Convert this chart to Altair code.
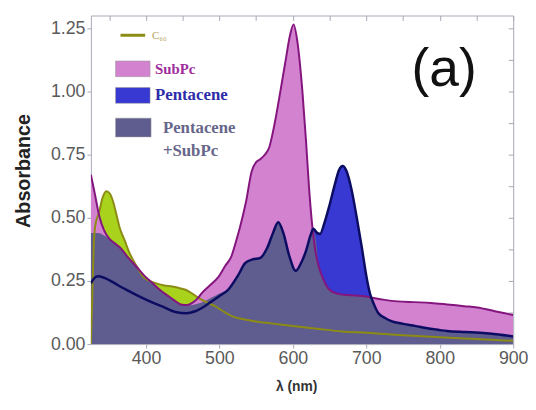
import altair as alt
import pandas as pd

# ---------------- data ----------------
wl_c60 = [325, 327, 329, 331, 336, 341, 346, 351, 355, 360, 364, 371, 378, 387, 396, 405,
          413, 425, 436, 445, 454, 463, 472, 483, 494, 505, 517, 530, 546, 570, 600, 635,
          667, 700, 750, 800, 850, 900]
abs_c60 = [0.0, 0.2, 0.4, 0.47, 0.52, 0.58, 0.605, 0.595, 0.566, 0.51, 0.462, 0.41, 0.358,
           0.31, 0.267, 0.25, 0.241, 0.232, 0.228, 0.222, 0.215, 0.2, 0.182, 0.165, 0.15,
           0.13, 0.111, 0.1, 0.091, 0.082, 0.072, 0.06, 0.05, 0.045, 0.035, 0.027, 0.02, 0.013]

wl_subpc = [325, 330, 337, 343, 350, 357, 364, 375, 387, 398, 409, 420, 431, 440, 449, 456,
            463, 470, 476, 488, 499, 508, 516, 522, 528, 536, 544, 550, 555, 562, 568, 575,
            583, 590, 596, 601, 606, 613, 618, 622, 626, 630, 635, 640, 645, 650, 660, 670,
            685, 698, 710, 725, 743, 765, 788, 810, 833, 851, 875, 900]
abs_subpc = [0.67, 0.6, 0.5, 0.45, 0.417, 0.4, 0.384, 0.345, 0.306, 0.27, 0.241, 0.212,
             0.189, 0.17, 0.156, 0.155, 0.163, 0.18, 0.202, 0.235, 0.267, 0.31, 0.345, 0.4,
             0.462, 0.56, 0.684, 0.72, 0.73, 0.75, 0.78, 0.87, 1.0, 1.12, 1.22, 1.265, 1.2,
             1.0, 0.8, 0.62, 0.48, 0.38, 0.31, 0.267, 0.235, 0.215, 0.2, 0.195, 0.192, 0.189,
             0.182, 0.175, 0.169, 0.166, 0.163, 0.157, 0.15, 0.145, 0.13, 0.115]

wl_pen = [325, 330, 335, 345, 355, 365, 380, 395, 410, 425, 440, 455, 467, 480, 490, 500,
          512, 525, 535, 545, 555, 565, 573, 580, 587, 595, 604, 611, 618, 624, 628, 633,
          637, 643, 649, 657, 663, 668, 673, 680, 687, 694, 700, 705, 710, 716, 725, 734,
          750, 766, 790, 810, 835, 855, 880, 900]
abs_pen = [0.24, 0.262, 0.268, 0.26, 0.245, 0.228, 0.205, 0.183, 0.163, 0.145, 0.127, 0.122,
           0.13, 0.15, 0.17, 0.19, 0.215, 0.27, 0.32, 0.335, 0.34, 0.38, 0.44, 0.482, 0.44,
           0.35, 0.29, 0.32, 0.37, 0.43, 0.456, 0.44, 0.436, 0.48, 0.54, 0.63, 0.69, 0.705,
           0.685, 0.61, 0.5, 0.38, 0.27, 0.2, 0.16, 0.124, 0.104, 0.091, 0.08, 0.072, 0.06,
           0.052, 0.048, 0.045, 0.038, 0.03]

wl_combo = [325, 335, 343, 350, 357, 364, 375, 387, 398, 409, 420, 431, 440, 449, 456, 463,
            470, 480, 490, 500, 512, 525, 535, 545, 555, 565, 573, 580, 587, 595, 604, 611,
            618, 624, 628, 632, 635, 640, 645, 650, 660, 670, 685, 698, 705, 710, 716, 725,
            734, 750, 766, 790, 810, 835, 855, 880, 900]
abs_combo = [0.44, 0.44, 0.43, 0.417, 0.4, 0.384, 0.345, 0.306, 0.27, 0.241, 0.212, 0.189,
             0.17, 0.156, 0.153, 0.155, 0.16, 0.17, 0.185, 0.2, 0.22, 0.27, 0.32, 0.335,
             0.34, 0.38, 0.44, 0.482, 0.44, 0.35, 0.29, 0.32, 0.37, 0.43, 0.45, 0.4, 0.31,
             0.267, 0.235, 0.215, 0.2, 0.195, 0.192, 0.189, 0.185, 0.16, 0.124, 0.104, 0.091,
             0.08, 0.072, 0.06, 0.052, 0.048, 0.045, 0.038, 0.03]

x_ticks = [400, 500, 600, 700, 800, 900]
y_ticks = [0.0, 0.25, 0.5, 0.75, 1.0, 1.25]
x_minor = [350, 400, 450, 500, 550, 600, 650, 700, 750, 800, 850, 900]
y_minor = [0.125, 0.25, 0.375, 0.5, 0.625, 0.75, 0.875, 1.0, 1.125, 1.25]

# ---------------- styling ----------------
FRAME = "#a8a8b8"
LABEL = "#5a5a5a"
c60_fill, c60_line = "#a8d21c", "#8c8c14"
sub_fill, sub_line = "#d282cf", "#84157f"
pen_fill, pen_line = "#3838d2", "#0c0c62"
combo_fill = "#5f5c8f"

xs = alt.Scale(domain=[325, 900], nice=False, zero=False)
ys = alt.Scale(domain=[0, 1.3], nice=False, zero=False)


def frame(wl, ab):
    return pd.DataFrame({"wl": wl, "a": ab})


df_c60 = frame(wl_c60, abs_c60)
df_sub = frame(wl_subpc, abs_subpc)
df_pen = frame(wl_pen, abs_pen)
df_combo = frame(wl_combo, abs_combo)

x_bottom = alt.Axis(values=x_ticks, labelFontSize=18, labelColor=LABEL, labelFont="Liberation Sans",
                    tickSize=4, tickColor=FRAME, labelPadding=2, labelFlush=False, domain=False,
                    grid=False, title="λ (nm)", titleFontSize=14, titleFontWeight="bold",
                    titleColor="#333333", titleFont="Liberation Sans", titleX=208, titleY=47,
                    titleBaseline="alphabetic", titleAlign="center")
y_left = alt.Axis(values=y_ticks, format=".2f", labelFontSize=18, labelColor=LABEL,
                  labelFont="Liberation Sans", tickSize=4, tickColor=FRAME, labelPadding=2,
                  labelFlush=False, domain=False, grid=False, title="Absorbance", titleFontSize=20,
                  titleFontWeight="bold", titleColor="#222222", titleFont="Liberation Sans",
                  titleX=-62, titleY=157, titleAngle=270, titleBaseline="alphabetic",
                  titleAlign="center")
x_top = alt.Axis(orient="top", values=x_minor, labels=False, tickSize=5, offset=-5,
                 tickColor=FRAME, domain=False, grid=False, title=None)
y_right = alt.Axis(orient="right", values=y_minor, labels=False, tickSize=5, offset=-5,
                   tickColor=FRAME, domain=False, grid=False, title=None)


def area(df, fill, xa=None, ya=None):
    return alt.Chart(df).mark_area(color=fill, interpolate="monotone", clip=True).encode(
        x=alt.X("wl:Q", scale=xs, axis=xa),
        y=alt.Y("a:Q", scale=ys, axis=ya),
    )


def line(df, col, w, xa=None, ya=None):
    return alt.Chart(df).mark_line(color=col, strokeWidth=w, interpolate="monotone",
                                   clip=True).encode(
        x=alt.X("wl:Q", scale=xs, axis=xa),
        y=alt.Y("a:Q", scale=ys, axis=ya),
    )


layers = [
    area(df_c60, c60_fill, x_bottom, y_left),
    area(df_sub, sub_fill),
    area(df_pen, pen_fill),
    area(df_combo, combo_fill),
    line(df_c60, c60_line, 2, x_top, y_right),
    line(df_sub, sub_line, 2),
    line(df_pen, pen_line, 2.5),
]

# ---------------- manual legend + panel label ----------------
one = pd.DataFrame({"k": [0]})
serif = "Liberation Serif"

layers.append(alt.Chart(one).mark_rule(color=c60_line, strokeWidth=3).encode(
    x=alt.value(30), x2=alt.value(55), y=alt.value(20)))
layers.append(alt.Chart(one).mark_text(text="C₆₀", font=serif, fontSize=11, color="#b4a45a",
                                       align="left", baseline="middle").encode(
    x=alt.value(62), y=alt.value(21)))

legend_items = [
    ("SubPc", sub_fill, "#a02c9c", 46, 62, 54, 15),
    ("Pentacene", pen_fill, "#2c2ca8", 73, 89, 81, 17),
]
for label, fill, tcol, y0, y1, ty, fs in legend_items:
    layers.append(alt.Chart(one).mark_rect(color=fill, stroke="#999999", strokeWidth=0.5).encode(
        x=alt.value(25), x2=alt.value(60), y=alt.value(y0), y2=alt.value(y1)))
    layers.append(alt.Chart(one).mark_text(text=label, font=serif, fontSize=fs, fontWeight="bold",
                                           color=tcol, align="left", baseline="middle").encode(
        x=alt.value(65), y=alt.value(ty)))

layers.append(alt.Chart(one).mark_rect(color=combo_fill, stroke="#999999", strokeWidth=0.5).encode(
    x=alt.value(25), x2=alt.value(61), y=alt.value(104), y2=alt.value(123)))
layers.append(alt.Chart(one).mark_text(text="Pentacene", font=serif, fontSize=17, fontWeight="bold",
                                       color="#66668a", align="left", baseline="middle").encode(
    x=alt.value(73), y=alt.value(114)))
layers.append(alt.Chart(one).mark_text(text="+SubPc", font=serif, fontSize=17, fontWeight="bold",
                                       color="#66668a", align="left", baseline="middle").encode(
    x=alt.value(73), y=alt.value(137)))
layers.append(alt.Chart(one).mark_text(text="(a)", font="Liberation Sans", fontSize=54,
                                       color="#111111", align="center",
                                       baseline="alphabetic").encode(
    x=alt.value(358), y=alt.value(71)))

chart = alt.layer(*layers).resolve_axis(x="independent", y="independent").properties(
    width=428, height=333,
    autosize=alt.AutoSizeParams(type="none"),
    padding={"left": 84, "top": 5, "right": 15, "bottom": 51},
).configure_view(stroke=FRAME, strokeWidth=1)

chart.save("out.html", embed_options={"renderer": "svg", "actions": False})
